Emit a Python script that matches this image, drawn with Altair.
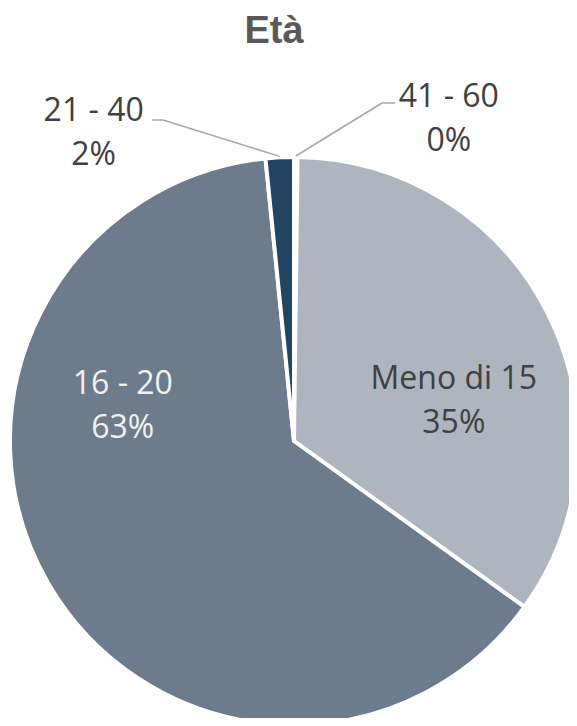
import altair as alt
import pandas as pd

# ---- data ----
categories = ["41 - 60", "Meno di 15", "16 - 20", "21 - 40"]
values = [0.2, 34.7, 63.4, 1.6]
slice_colors = ["#d0d5db", "#aeb5be", "#6c7c8c", "#214563"]
title_text = ["Età"]

df = pd.DataFrame({
    "category": categories,
    "value": values,
    "order": list(range(len(categories))),
})
total = float(sum(values))

# ---- layout (style constants, not data) ----
CX, CY = 286, 433          # pie centre inside the view
R = 284                    # outer radius
LEADER_R = 285
FONT = "Open Sans"
LEADERS = {
    "21 - 40": {"elbow": (-131, -321), "tail": (-142, -321)},
    "41 - 60": {"elbow": (88, -338), "tail": (101, -338)},
}

theta_scale = alt.Scale(domain=[0, total])

base = alt.Chart(df)

arcs = base.mark_arc(outerRadius=R, stroke="white", strokeWidth=4).encode(
    theta=alt.Theta("value:Q", stack=True, scale=theta_scale),
    color=alt.Color("category:N",
                    scale=alt.Scale(domain=categories, range=slice_colors),
                    legend=None),
    order=alt.Order("order:Q"),
    x=alt.value(CX),
    y=alt.value(CY),
)

labeled = base.transform_window(
    cum="sum(value)",
    sort=[alt.SortField("order")],
    frame=[None, 0],
).transform_calculate(
    mid="datum.cum - datum.value / 2",
    label="datum.category + '|' + format(datum.value, '.0f') + '%'",
)


def label_layer(cat, radius, dx, dy, color):
    return labeled.transform_filter(alt.datum.category == cat).mark_text(
        radius=radius, dx=dx, dy=dy, font=FONT, fontSize=32, lineHeight=44,
        lineBreak="|", color=color, align="center", baseline="middle",
    ).encode(
        theta=alt.Theta("mid:Q", scale=theta_scale),
        text="label:N",
        x=alt.value(CX),
        y=alt.value(CY),
    )


labels = [
    label_layer("Meno di 15", 170, 8, 15, "#404040"),
    label_layer("16 - 20", 170, -24, -142, "#f2f2f2"),
    label_layer("21 - 40", LEADER_R, -186, -45, "#404040"),
    label_layer("41 - 60", LEADER_R, 153, -59, "#404040"),
]


def cond(key, idx):
    cats = list(LEADERS.keys())
    a = LEADERS[cats[0]][key][idx]
    b = LEADERS[cats[1]][key][idx]
    return f"(datum.category == '{cats[0]}' ? {a} : {b})"


leader_data = labeled.transform_filter(
    alt.FieldOneOfPredicate(field="category", oneOf=list(LEADERS.keys()))
).transform_calculate(
    ang=f"2 * PI * datum.mid / {total}",
).transform_calculate(
    ax=f"{CX} + {LEADER_R} * sin(datum.ang)",
    ay=f"{CY} - {LEADER_R} * cos(datum.ang)",
    ex=f"{CX} + {cond('elbow', 0)}",
    ey=f"{CY} + {cond('elbow', 1)}",
    tx=f"{CX} + {cond('tail', 0)}",
    ty=f"{CY} + {cond('tail', 1)}",
)

leader1 = leader_data.mark_rule(color="#a6a6a6", strokeWidth=1.5).encode(
    x=alt.X("ax:Q", scale=None, axis=None),
    y=alt.Y("ay:Q", scale=None, axis=None),
    x2="ex:Q",
    y2="ey:Q",
)
leader2 = leader_data.mark_rule(color="#a6a6a6", strokeWidth=1.5).encode(
    x=alt.X("ex:Q", scale=None, axis=None),
    y=alt.Y("ey:Q", scale=None, axis=None),
    x2="tx:Q",
    y2="ty:Q",
)

title = alt.Chart(pd.DataFrame({"t": title_text})).mark_text(
    font="Liberation Sans", fontSize=38, fontWeight="bold", color="#595959",
    align="center", baseline="alphabetic",
).encode(text="t:N", x=alt.value(266), y=alt.value(35))

chart = alt.layer(arcs, leader1, leader2, *labels, title).properties(
    width=561,
    height=710,
    autosize="none",
    padding=0,
).configure_view(
    stroke=None
).configure_axis(
    disable=True
)

chart.save("out.html", embed_options={"renderer": "svg", "actions": False})
